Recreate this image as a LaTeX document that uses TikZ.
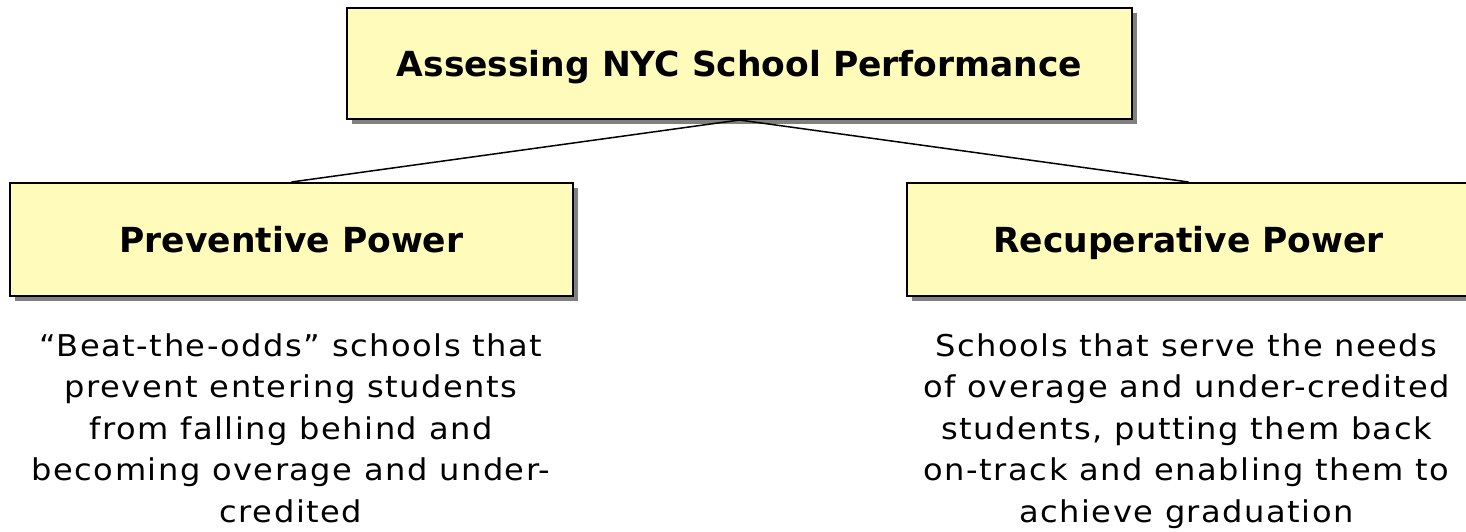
\documentclass[tikz,border=0pt]{standalone}
\usepackage{fontspec}
\setmainfont{DejaVu Sans}
\newfontfamily\bodyfont[LetterSpace=5,FakeStretch=1.07]{DejaVu Sans}
\usetikzlibrary{shadows}
\definecolor{boxfill}{RGB}{255,252,187}
\definecolor{shadowgray}{RGB}{128,128,128}
\tikzset{
  headbox/.style={draw=black, line width=2pt, fill=boxfill, inner sep=0pt,
    drop shadow={shadow xshift=5pt, shadow yshift=-5pt, fill=shadowgray, opacity=1},
    font=\fontsize{34.5}{42}\selectfont\bfseries, text height=25pt, text depth=0pt},
  desc/.style={align=center, inner sep=0pt, anchor=north,
    font=\bodyfont\fontsize{30}{41.5}\selectfont},
  link/.style={draw=black, line width=1.5pt}
}
\begin{document}
\begin{tikzpicture}[x=1pt,y=-1pt]
\clip (0,0) rectangle (1466,531);
\node[headbox, minimum width=785pt, minimum height=111pt] (top) at (739.5,63.5) {Assessing NYC School Performance};
\node[headbox, minimum width=563pt, minimum height=113pt] (left) at (291.5,239.5) {Preventive Power};
\node[headbox, minimum width=563pt, minimum height=113pt] (right) at (1188.5,239.5) {Recuperative Power};
\draw[link] (top.south) -- (left.north);
\draw[link] (top.south) -- (right.north);
\node[desc] (ltext) at (291,333) {“Beat-the-odds” schools that\\prevent entering students\\from falling behind and\\becoming overage and under-\\credited};
\node[desc] (rtext) at (1186.5,333) {Schools that serve the needs\\of overage and under-credited\\students, putting them back\\on-track and enabling them to\\achieve graduation};
\end{tikzpicture}
\end{document}
